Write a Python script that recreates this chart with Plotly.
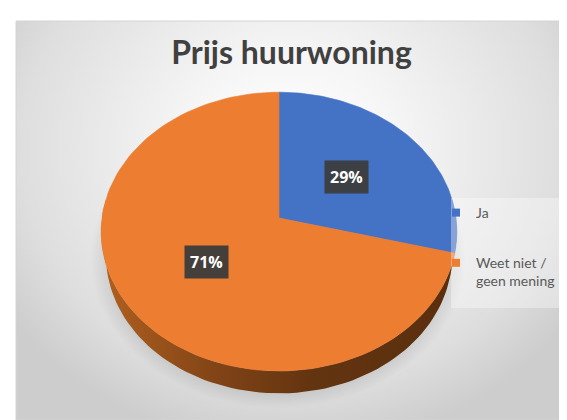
import math
import numpy as np
import plotly.graph_objects as go

# ---- data ----
categories = ["Ja", "Weet niet /<br>geen mening"]
values = [29, 71]
labels = ["29%", "71%"]
top_colors = ["#4472C4", "#ED7D31"]
title_text = "Prijs huurwoning"

# ---- 3D pie geometry (pixel-like coordinates) ----
CX, CY = 271.0, 210.0      # projected pie vertex
R = 177.0                  # radius
SIN_A = 0.78               # elevation
COS_A = math.sqrt(1 - SIN_A ** 2)
D = 1135.0                 # camera distance (perspective)
H = 40.0                   # thickness


def proj(phi_deg, frac=1.0, w=0.0):
    phi = np.radians(phi_deg)
    u = R * frac * np.sin(phi)
    v = R * frac * np.cos(phi)
    yup = v * SIN_A + w * COS_A
    depth = v * COS_A - w * SIN_A
    s = D / (D + depth)
    return CX + u * s, CY - yup * s


total = float(sum(values))
bounds = [0.0]
for val in values:
    bounds.append(bounds[-1] + 360.0 * val / total)

fig = go.Figure()

# background radial gradient (clipped to plot area)
bx0, bx1, by0, by1 = 283 - 340, 283 + 340, 140 - 300, 140 + 300
fig.add_trace(go.Scatter(
    x=[bx0, bx1, bx1, bx0, bx0], y=[by0, by0, by1, by1, by0],
    mode="lines", line=dict(width=0), fill="toself",
    fillgradient=dict(type="radial", colorscale=[[0, "#ffffff"], [0.3, "#f6f6f6"], [0.8, "#dedede"], [1, "#cdcdcd"]]),
    hoverinfo="skip", showlegend=False))

# soft shadow
t = np.linspace(0, 2 * np.pi, 121)
fig.add_trace(go.Scatter(
    x=270 + 188 * np.cos(t), y=250 + 150 * np.sin(t),
    mode="lines", line=dict(width=0), fill="toself",
    fillgradient=dict(type="radial", colorscale=[[0, "rgba(0,0,0,0.20)"], [0.82, "rgba(0,0,0,0.17)"], [1, "rgba(0,0,0,0)"]]),
    hoverinfo="skip", showlegend=False))

# side walls (visible front part)
wall_grad = [
    [[0, "#23407a"], [1, "#1f3a6e"]],
    [[0, "#b0601f"], [0.35, "#7e4216"], [0.6, "#633410"], [1, "#5a2f0e"]],
]
for i in range(len(values)):
    a0 = max(bounds[i], 82.0)
    a1 = min(bounds[i + 1], 278.0)
    if a1 <= a0:
        continue
    ph = np.linspace(a0, a1, 80)
    xt, yt = proj(ph, 1.0, 0.0)
    xb, yb = proj(ph[::-1], 1.0, -H)
    xs = np.concatenate([xt, xb, xt[:1]])
    ys = np.concatenate([yt, yb, yt[:1]])
    fig.add_trace(go.Scatter(
        x=xs, y=ys, mode="lines", line=dict(width=0), fill="toself",
        fillgradient=dict(type="horizontal", colorscale=wall_grad[i]),
        hoverinfo="skip", showlegend=False))

# top faces
for i in range(len(values)):
    ph = np.linspace(bounds[i], bounds[i + 1], 120)
    xa, ya = proj(ph, 1.0, 0.0)
    xs = np.concatenate([[CX], xa, [CX]])
    ys = np.concatenate([[CY], ya, [CY]])
    fig.add_trace(go.Scatter(
        x=xs, y=ys, mode="lines", line=dict(width=0.6, color=top_colors[i]),
        fill="toself", fillcolor=top_colors[i],
        hoverinfo="skip", showlegend=False))

# legend entries
for i, name in enumerate(categories):
    fig.add_trace(go.Scatter(
        x=[None], y=[None], mode="markers", name=name, legendgroup=f"g{i}",
        marker=dict(symbol="square", size=8, color=top_colors[i]),
        hoverinfo="skip"))

# data labels
annotations = []
for i, lab in enumerate(labels):
    mid = (bounds[i] + bounds[i + 1]) / 2
    lx, ly = proj(mid, 0.5, 0.0)
    annotations.append(dict(
        x=float(lx), y=float(ly), xref="x", yref="y", text=f"<b>{lab}</b>",
        showarrow=False, font=dict(family="Open Sans, Lato, sans-serif", size=16, color="#ffffff"),
        bgcolor="rgba(60,60,60,0.95)", borderpad=5))

fig.update_layout(
    width=567, height=420,
    margin=dict(l=8, r=8, t=13, b=8),
    paper_bgcolor="#ffffff", plot_bgcolor="rgba(0,0,0,0)",
    xaxis=dict(range=[8, 559], visible=False, fixedrange=True),
    yaxis=dict(range=[412, 13], visible=False, fixedrange=True),
    title=dict(text=f"<b>{title_text}</b>", x=0.5, xanchor="center", y=1 - 45 / 420, yanchor="middle",
               font=dict(family="Lato, Open Sans, sans-serif", size=32, color="#404040")),
    legend=dict(x=(428 - 8) / 551, y=(412 - 189) / 399, xanchor="left", yanchor="top",
                bgcolor="rgba(0,0,0,0)", font=dict(family="Lato, Open Sans, sans-serif", size=14, color="#595959"),
                tracegroupgap=29, valign="top", traceorder="grouped"),
    annotations=annotations,
    shapes=[
        dict(type="rect", xref="x", yref="y", x0=443, x1=562, y0=190, y1=300, layer="above",
             line=dict(width=0), fillcolor="rgba(255,255,255,0.35)"),
        dict(type="rect", xref="paper", yref="paper", x0=0, x1=1, y0=0, y1=1,
             line=dict(color="#d4d4d4", width=1)),
    ],
    hovermode=False,
)

fig.write_html("out.html")
